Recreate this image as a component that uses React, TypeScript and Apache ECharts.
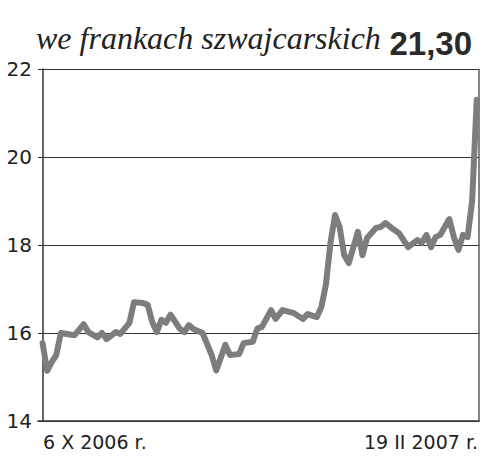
import React, { useEffect, useRef } from "react";
import * as echarts from "echarts";

const title = "we frankach szwajcarskich";
const lastValue = "21,30";
const startLabel = "6 X 2006 r.";
const endLabel = "19 II 2007 r.";
const yTicks = [14, 16, 18, 20, 22];

// trading-day index since 6 X 2006
const days = [
  0, 1, 2, 3, 4, 7, 9, 10, 12, 13, 14, 16, 17, 19, 20, 22, 23, 24, 25, 26,
  27, 28, 30, 31, 32, 33, 35, 37, 38, 40, 41, 43, 44, 46, 47, 48, 50, 51, 52.5, 55,
  57, 58, 60, 61, 62, 63, 64, 65, 66, 67, 69, 70, 71, 73, 74, 75, 77, 78, 80, 82,
  83, 84, 85, 86, 87, 89, 90, 91, 92, 93, 94, 95,
];
const values = [
  15.77, 15.14, 15.34, 15.5, 16.0, 15.95, 16.2, 16.02, 15.9, 16.0, 15.86, 16.02, 15.98, 16.23, 16.7, 16.68, 16.64, 16.25, 16.02, 16.3,
  16.23, 16.42, 16.1, 16.02, 16.18, 16.09, 16.0, 15.5, 15.15, 15.73, 15.5, 15.52, 15.77, 15.8, 16.1, 16.14, 16.52, 16.32, 16.52, 16.45,
  16.32, 16.43, 16.36, 16.59, 17.1, 18.05, 18.68, 18.41, 17.77, 17.59, 18.3, 17.77, 18.16, 18.39, 18.41, 18.5, 18.34, 18.27, 17.95, 18.11,
  18.05, 18.23, 17.95, 18.18, 18.23, 18.59, 18.18, 17.89, 18.23, 18.18, 19.0, 21.3,
];

export default function App() {
  const ref = useRef<HTMLDivElement>(null);
  useEffect(() => {
    if (!ref.current) return;
    const chart = echarts.init(ref.current, null, { renderer: "svg" });
    const data = days.map((d, i) => [d, values[i]]);
    chart.setOption({
      animation: false,
      backgroundColor: "#ffffff",
      grid: { left: 38, right: 21, top: 69, bottom: 49, containLabel: false },
      xAxis: {
        type: "value",
        min: -1,
        max: 95.5,
        axisLine: { show: true, lineStyle: { color: "#333", width: 1.5 } },
        axisTick: { show: false },
        axisLabel: { show: false },
        splitLine: { show: false },
      },
      yAxis: {
        type: "value",
        min: yTicks[0],
        max: yTicks[yTicks.length - 1],
        interval: 2,
        axisLine: { show: true, lineStyle: { color: "#333", width: 1.5 } },
        axisTick: { show: false },
        axisLabel: {
          color: "#222",
          fontSize: 20,
          fontFamily: "DejaVu Sans",
          margin: 6,
        },
        splitLine: { show: true, lineStyle: { color: "#333", width: 1.2 } },
      },
      graphic: [
        {
          type: "line",
          shape: { x1: 479, y1: 69, x2: 479, y2: 421 },
          style: { stroke: "#333", lineWidth: 1.2 },
        },
        {
          type: "text",
          x: 36,
          y: 38,
          style: {
            text: title,
            font: "italic 32px 'Liberation Serif'",
            fill: "#222",
            textAlign: "left",
            textVerticalAlign: "middle",
          },
        },
        {
          type: "text",
          right: 28,
          top: 27,
          style: {
            text: lastValue,
            font: "bold 33px 'Liberation Sans'",
            fill: "#2a2a2a",
          },
        },
        {
          type: "text",
          x: 43,
          y: 442,
          style: {
            text: startLabel,
            font: "19px 'DejaVu Sans'",
            fill: "#222",
            textAlign: "left",
            textVerticalAlign: "middle",
          },
        },
        {
          type: "text",
          x: 478,
          y: 442,
          style: {
            text: endLabel,
            font: "19px 'DejaVu Sans'",
            fill: "#222",
            textAlign: "right",
            textVerticalAlign: "middle",
          },
        },
      ],
      series: [
        {
          type: "line",
          data,
          symbol: "none",
          lineStyle: { color: "#7d7d7d", width: 6, join: "round", cap: "round" },
          z: 5,
        },
      ],
    });
    return () => chart.dispose();
  }, []);
  return (
    <div
      ref={ref}
      style={{ position: "absolute", left: 0, top: 0, width: 500, height: 470 }}
    />
  );
}
